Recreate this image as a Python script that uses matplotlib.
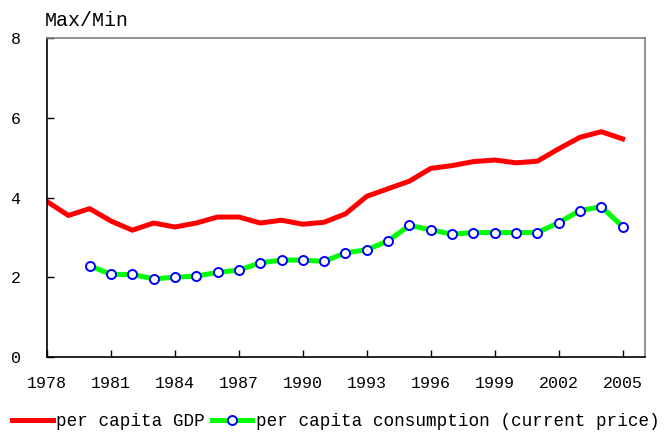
import matplotlib
matplotlib.use('Agg')
import matplotlib.pyplot as plt
import numpy as np

plt.rcParams['font.family'] = ['Liberation Mono', 'DejaVu Sans Mono']

years = np.arange(1978, 2006)
gdp = [3.90, 3.55, 3.72, 3.41, 3.18, 3.36, 3.26, 3.36, 3.51, 3.51,
       3.36, 3.43, 3.33, 3.38, 3.59, 4.03, 4.22, 4.41, 4.73, 4.80,
       4.90, 4.94, 4.87, 4.91, 5.22, 5.51, 5.65, 5.47]
cons_years = np.arange(1980, 2006)
cons = [2.29, 2.07, 2.07, 1.96, 2.00, 2.03, 2.12, 2.18, 2.36, 2.43,
        2.43, 2.40, 2.61, 2.69, 2.91, 3.30, 3.19, 3.08, 3.12, 3.12,
        3.12, 3.12, 3.37, 3.67, 3.77, 3.27]
xticks = np.arange(1978, 2006, 3)
yticks = [0, 2, 4, 6, 8]

fig = plt.figure(figsize=(6.65, 4.32), dpi=100)
ax = fig.add_axes([47/665, 75/432, 598/665, 319/432])

ax.plot(years, gdp, color='#ff0000', linewidth=3.6, label='per capita GDP', solid_joinstyle='round')
ax.plot(cons_years, cons, color='#00ff00', linewidth=3.6, marker='o', markersize=6.5,
        markerfacecolor='white', markeredgecolor='#0000ff', markeredgewidth=1.4,
        label='per capita consumption (current price)')

ax.set_xlim(1978, 2006.05)
ax.set_ylim(0, 8)
ax.set_xticks(xticks)
ax.set_yticks(yticks)
ax.tick_params(axis='x', direction='in', length=5, width=1, pad=14, labelsize=12, colors='black')
ax.tick_params(axis='y', direction='in', length=5, width=1, pad=19, labelsize=12)
for s in ['left', 'bottom']:
    ax.spines[s].set_color('black')
    ax.spines[s].set_linewidth(1.2)
for s in ['top', 'right']:
    ax.spines[s].set_color('#808080')
    ax.spines[s].set_linewidth(1.2)

fig.text(45/665, 1 - 21/432, 'Max/Min', fontsize=14.4, va='center', ha='left')

fig.legend(loc='center left', bbox_to_anchor=(12/665, 10/432), ncol=2, frameon=False,
           fontsize=12.7, handlelength=2.3, handletextpad=0.2, columnspacing=0.4,
           borderpad=0, borderaxespad=0)

fig.savefig('out.png', dpi=100)
